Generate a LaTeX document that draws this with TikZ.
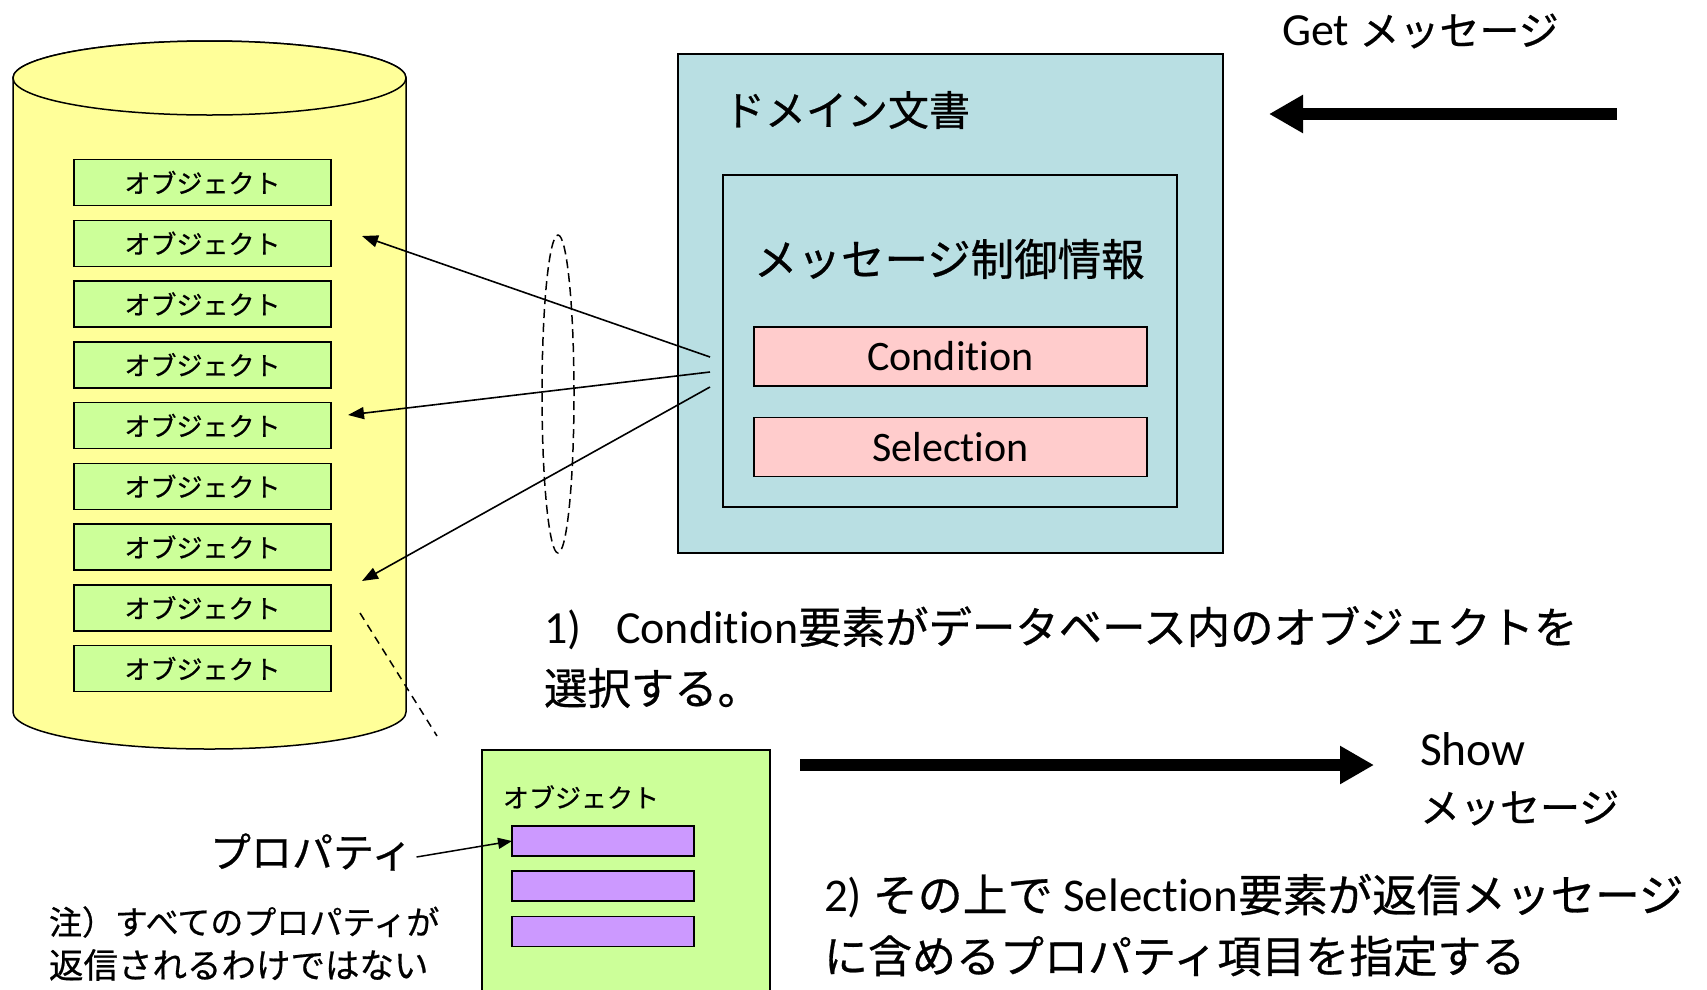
\documentclass[tikz,border=0pt]{standalone}
\usepackage{fontspec}
\setmainfont{Carlito}[Ligatures=NoCommon]
\newfontfamily\jp{Noto Sans CJK JP}[FakeBold=0.6]
\usetikzlibrary{arrows.meta}
\definecolor{cylfill}{HTML}{FFFF99}
\definecolor{objfill}{HTML}{CCFF99}
\definecolor{domfill}{HTML}{B9DFE3}
\definecolor{pinkfill}{HTML}{FFCCCC}
\definecolor{purpfill}{HTML}{CC99FF}
\newcommand\myfs[1]{\fontsize{#1}{#1}\selectfont}
\begin{document}
\begin{tikzpicture}[x=1pt,y=-1pt,
  every node/.style={inner sep=0pt, outer sep=0pt},
  shapeline/.style={draw=black, line width=1.5pt},
  objbox/.style={shapeline, fill=objfill, minimum width=257pt, minimum height=46pt, font=\jp\myfs{26}},
  redbox/.style={shapeline, fill=pinkfill, minimum width=393pt, minimum height=59pt, font=\myfs{42}},
  propbar/.style={shapeline, fill=purpfill, minimum width=182pt, minimum height=30pt},
  thinarrow/.style={line width=1.6pt, -{Triangle[length=16pt,width=12pt]}},
  bigarrow/.style={line width=12pt, -{Triangle[length=34pt,width=36pt]}},
  label/.style={anchor=west}]
\useasboundingbox (0,0) rectangle (1707,989);
\clip (0,0) rectangle (1707,989);
\fill[white] (0,0) rectangle (1707,989);

% database cylinder
\draw[shapeline, fill=cylfill] (13,78) -- (13,712)
  arc[start angle=180, end angle=360, x radius=196.5pt, y radius=37pt]
  -- (406,78)
  arc[start angle=0, end angle=180, x radius=196.5pt, y radius=37pt] -- cycle;
\draw[shapeline, fill=cylfill] (209.5,78) ellipse [x radius=196.5pt, y radius=37pt];

% objects in the database
\foreach \i in {0,...,8} {
  \node[objbox] (o\i) at (202.5, {182.5+60.75*\i}) {オブジェクト};
}

% domain document
\node[shapeline, fill=domfill, anchor=north west, minimum width=545pt, minimum height=499pt] (dom) at (678,54) {};
\node[label, font=\jp\myfs{41}] (domlbl) at (724,110) {ドメイン文書};
\node[shapeline, fill=domfill, anchor=north west, minimum width=454pt, minimum height=332pt] (ctl) at (723,175) {};
\node[label, font=\jp\myfs{43.5}] (ctllbl) at (754,259) {メッセージ制御情報};
\node[redbox] (cond) at (950.5,356.5) {Condition};
\node[redbox] (sel) at (950.5,447) {Selection};

% selection arrows
\coordinate (s1) at (710,357);
\coordinate (s2) at (710,372);
\coordinate (s3) at (710,387);
\coordinate (t1) at (362,236);
\coordinate (t2) at (348,415);
\coordinate (t3) at (362,581);
\draw[thinarrow] (s1) -- (t1);
\draw[thinarrow] (s2) -- (t2);
\draw[thinarrow] (s3) -- (t3);
\draw[line width=1.5pt, dash pattern=on 9pt off 5pt] (558,394) ellipse [x radius=16pt, y radius=159pt];

% Get message
\node[label] (getlbl) at (1282,31) {\myfs{46}Get {\jp\myfs{40}メッセージ}};
\coordinate (gs) at (1617,114);
\coordinate (ge) at (1269,114);
\draw[bigarrow] (gs) -- (ge);

% text 1
\node[label] (txt1a) at (544,628) {\myfs{46}1)\hspace{35pt}Condition{\jp\myfs{43.4}要素がデータベース内のオブジェクトを}};
\node[label, font=\jp\myfs{43.4}] (txt1b) at (544,688) {選択する。};

% detail dashed line
\coordinate (d1) at (360,613);
\coordinate (d2) at (437,736);
\draw[line width=1.5pt, dash pattern=on 8pt off 6pt] (d1) -- (d2);

% big object
\node[shapeline, fill=objfill, anchor=north west, minimum width=288pt, minimum height=260pt] (bigobj) at (482,750) {};
\node[label, font=\jp\myfs{26}] (bigobjlbl) at (503,797) {オブジェクト};
\node[propbar] (p1) at (603,841) {};
\node[propbar] (p2) at (603,886) {};
\node[propbar] (p3) at (603,931.5) {};

% property label
\node[label, font=\jp\myfs{41}] (prop) at (210,852) {プロパティ};
\draw[line width=1.5pt, -{Triangle[length=14pt,width=11pt]}] ([xshift=4pt,yshift=-5pt]prop.east) -- (p1.west);

% note
\node[label, font=\jp\myfs{33}] (note1) at (49,922) {注）すべてのプロパティが};
\node[label, font=\jp\myfs{34.5}] (note2) at (49,965) {返信されるわけではない};

% Show message
\coordinate (ss) at (800,765);
\coordinate (se) at (1374,765);
\draw[bigarrow] (ss) -- (se);
\node[label, font=\myfs{47.5}] (showlbl) at (1420,749) {Show};
\node[label, font=\jp\myfs{40}] (showmsg) at (1420,808) {メッセージ};

% text 2
\node[label] (txt2a) at (824,896) {\myfs{47}2) {\jp\myfs{45}その上で} Selection{\jp\myfs{44.6}要素が返信メッセージ}};
\node[label, font=\jp\myfs{44}] (txt2b) at (824,956) {に含めるプロパティ項目を指定する};
\end{tikzpicture}
\end{document}
